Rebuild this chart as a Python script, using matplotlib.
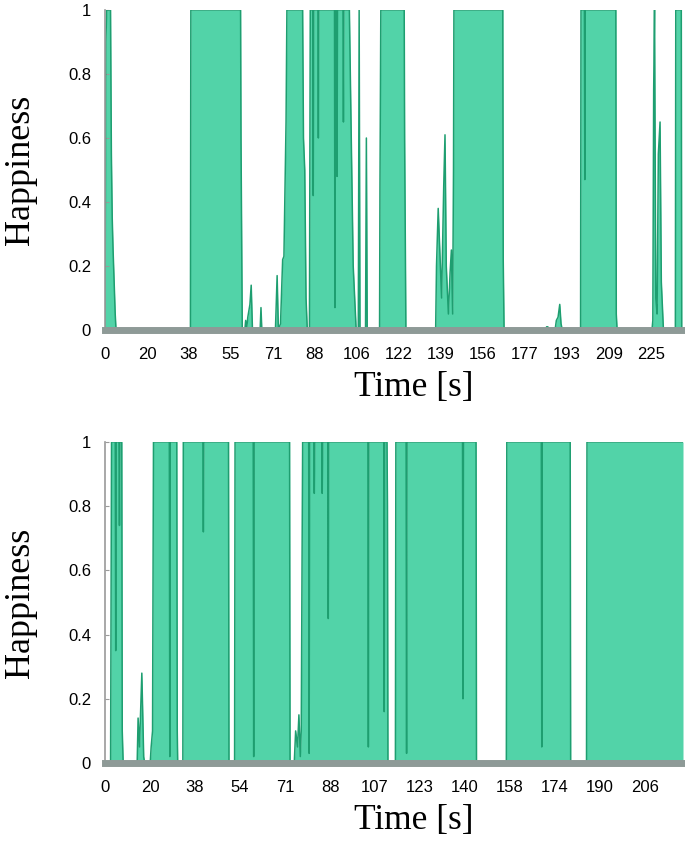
import matplotlib
matplotlib.use('Agg')
import matplotlib.pyplot as plt

# 上段: サンプル位置と幸福度
top_time = [0.0, 0.2, 0.4, 1.3, 1.5, 1.7, 1.9, 2.4, 2.6,
            20.1, 20.2, 31.9, 32.0, 32.3,
            32.9, 33.1, 33.3, 33.6, 34.1, 34.4, 34.7, 36.5, 36.7, 36.9,
            40.1, 40.5, 40.8, 41.3, 41.8, 42.1, 42.6, 42.8,
            46.5, 46.7, 47.0, 47.3, 47.6,
            48.1, 48.3, 48.9, 49.0, 49.1, 50.1, 50.2, 50.3, 54.0, 54.1, 54.2,
            54.5, 54.6, 54.7, 56.0, 56.1, 56.2, 57.5, 58.0, 58.4, 59.1,
            59.6, 59.8, 60.0, 61.3, 61.5, 61.7,
            64.6, 64.7, 64.9, 70.4, 70.5, 70.8,
            77.8, 78.0, 78.4, 78.8, 79.2, 79.7, 80.0, 80.3, 80.8, 81.2,
            81.5, 81.8, 82.0, 82.1,
            93.6, 93.7, 93.9,
            103.8, 103.9, 104.2, 104.4, 105.9, 106.2, 106.6, 107.0, 107.3, 107.6,
            111.9, 112.0, 112.8, 112.9, 113.0, 120.2, 120.3, 120.5,
            128.7, 128.9, 129.1, 129.3, 129.6, 129.9, 130.2, 130.6, 130.9, 131.4,
            134.2, 134.3, 135.6, 135.7, 136.0]
top_happy = [0, 0.9, 1, 1, 0.55, 0.35, 0.25, 0.05, 0,
             0, 1, 1, 0.6, 0,
             0, 0.03, 0, 0.04, 0.08, 0.14, 0, 0, 0.07, 0,
             0, 0.17, 0, 0.02, 0.22, 0.23, 0.65, 1,
             1, 0.6, 0.5, 0.1, 0,
             0, 1, 1, 0.42, 1, 1, 0.6, 1, 1, 0.07, 1,
             1, 0.48, 1, 1, 0.65, 1, 1, 0.55, 0.2, 0,
             0, 1, 0, 0, 0.6, 0,
             0, 0.45, 1, 1, 0.6, 0,
             0, 0.2, 0.38, 0.24, 0.1, 0.45, 0.61, 0.2, 0.05, 0.18,
             0.25, 0.05, 0.5, 1,
             1, 0.22, 0,
             0, 0.01, 0.01, 0, 0, 0.03, 0.04, 0.08, 0.02, 0,
             0, 1, 1, 0.47, 1, 1, 0.05, 0,
             0, 0.03, 0.75, 1, 0.1, 0.05, 0.55, 0.65, 0.15, 0,
             0, 1, 1, 0, 0]
top_labels = ['0', '20', '38', '55', '71', '88', '106', '122', '139',
              '156', '177', '193', '209', '225']

# 下段
bot_time = [0.0, 1.2, 1.4, 2.2, 2.3, 2.4, 3.0, 3.1, 3.2, 3.6, 3.7, 3.9,
            6.9, 7.1, 7.4, 7.9, 8.3, 8.5,
            9.7, 9.9, 10.2, 10.4, 13.8, 13.9, 14.0, 15.4, 15.5, 15.6,
            16.7, 16.8, 21.0, 21.1, 21.2, 26.5, 26.6,
            27.8, 27.9, 31.8, 31.9, 32.0, 39.6, 39.7,
            40.6, 40.9, 41.3, 41.6, 41.9, 42.1, 42.4,
            43.7, 43.8, 43.9, 44.8, 44.9, 45.0, 46.5, 46.6, 46.7, 47.8, 47.9, 48.0,
            56.4, 56.5, 56.6, 59.8, 59.9, 60.0, 60.5, 60.6, 60.7,
            62.3, 62.4, 64.6, 64.7, 64.8, 76.7, 76.8, 76.9, 79.6, 79.7,
            86.1, 86.2, 93.6, 93.7, 93.8, 99.8, 99.9,
            103.3, 103.4, 124.0]
bot_happy = [0, 0, 1, 1, 0.35, 1, 1, 0.74, 1, 1, 0.1, 0,
             0, 0.14, 0.05, 0.28, 0.02, 0,
             0, 0.05, 0.1, 1, 1, 0.02, 1, 1, 0.1, 0,
             0, 1, 1, 0.72, 1, 1, 0,
             0, 1, 1, 0.02, 1, 1, 0,
             0, 0.1, 0.05, 0.15, 0.02, 0.1, 1,
             1, 0.03, 1, 1, 0.84, 1, 1, 0.84, 1, 1, 0.45, 1,
             1, 0.05, 1, 1, 0.16, 1, 1, 0.8, 0,
             0, 1, 1, 0.03, 1, 1, 0.2, 1, 1, 0,
             0, 1, 1, 0.05, 1, 1, 0,
             0, 1, 1]
bot_labels = ['0', '20', '38', '54', '71', '88', '107', '123', '140',
              '158', '174', '190', '206']

fill_col = '#52d3a8'
edge_col = '#1e9e70'
gray = '#8e9a97'

fig = plt.figure(figsize=(6.85, 8.44), dpi=100)
ax1 = fig.add_axes([105/685, 1 - 330/844, 578/685, 320/844])
ax2 = fig.add_axes([105/685, 1 - 763/844, 578/685, 321/844])


def draw(ax, xs, ys, labels, xmax, step):
    ax.fill_between(xs, ys, 0, color=fill_col, linewidth=0)
    ax.plot(xs, ys, color=edge_col, linewidth=1.1)
    ax.set_xlim(0, xmax)
    ax.set_ylim(0, 1)
    ax.set_xticks([step * i for i in range(len(labels))])
    ax.set_xticklabels(labels)
    ax.set_yticks([0, 0.2, 0.4, 0.6, 0.8, 1])
    ax.set_yticklabels(['0', '0.2', '0.4', '0.6', '0.8', '1'])
    for s in ['top', 'right']:
        ax.spines[s].set_visible(False)
    ax.spines['left'].set_color('#9a9a9a')
    ax.spines['left'].set_linewidth(1.2)
    ax.spines['bottom'].set_color(gray)
    ax.spines['bottom'].set_linewidth(5)
    ax.spines['bottom'].set_zorder(5)
    ax.tick_params(axis='x', length=0, pad=12, labelsize=12)
    ax.tick_params(axis='y', direction='in', length=3, color='#9a9a9a',
                   pad=10, labelsize=12)
    for t in ax.get_xticklabels() + ax.get_yticklabels():
        t.set_family('Liberation Sans')
    ax.set_ylabel('Happiness', family='Liberation Serif', fontsize=26)
    ax.yaxis.set_label_coords(-0.118, 0.5)
    ax.set_xlabel('Time [s]', family='Liberation Serif', fontsize=25.5)
    ax.xaxis.set_label_coords(0.535, -0.128)
    ax.xaxis.label.set_va('top')


draw(ax1, top_time, top_happy, top_labels, 136, 42.0 / 4.25)
draw(ax2, bot_time, bot_happy, bot_labels, 124, 45.0 / 4.66)

plt.savefig('out.png', dpi=100)
